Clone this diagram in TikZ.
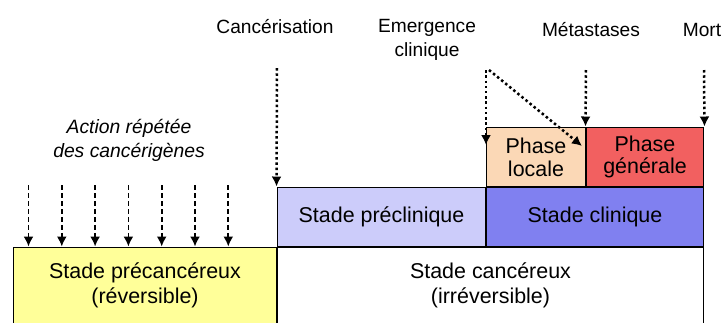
\documentclass[tikz,border=0pt]{standalone}
\usepackage{fontspec}
\setmainfont{Liberation Sans}
\usetikzlibrary{arrows.meta}

\definecolor{precancyellow}{RGB}{255,255,153}
\definecolor{preclinblue}{RGB}{204,204,250}
\definecolor{clinblue}{RGB}{128,128,240}
\definecolor{localpeach}{RGB}{251,216,182}
\definecolor{generalred}{RGB}{242,96,96}

\begin{document}
\begin{tikzpicture}[x=0.02cm, y=-0.02cm,
  >={Latex[length=0.2cm,width=0.2cm]},
  box/.style={draw, line width=0.02cm, inner sep=0pt, align=center,
    font=\fontsize{12.2}{14.2}\selectfont},
  phasebox/.style={box, minimum height=1.2cm, font=\fontsize{12.2}{13}\selectfont},
  toptext/.style={inner sep=0pt, align=center, font=\fontsize{10.9}{13.6}\selectfont},
  dotarrow/.style={->, line width=0.05cm, dash pattern=on 0.05cm off 0.055cm},
  dasharrow/.style={->, line width=0.035cm, dash pattern=on 0.1cm off 0.06cm}]

\useasboundingbox (0,0) rectangle (725,322);
\clip (0,0) rectangle (725,322);

% The two stages at the bottom
\node [box, fill=precancyellow, minimum width=5.28cm, minimum height=1.54cm] (precanc) at (145,285.5) {Stade précancéreux\\(réversible)};
\node [box, minimum width=8.54cm, minimum height=1.54cm] (canc) at (490.5,285.5) {Stade cancéreux\\(irréversible)};

% Preclinical and clinical stages, then the two phases
\node [box, fill=preclinblue, minimum width=4.18cm, minimum height=1.2cm] (preclin) at (381.5,217) {Stade préclinique};
\node [box, fill=clinblue, minimum width=4.36cm, minimum height=1.2cm] (clin) at (595,217) {Stade clinique};
\node [phasebox, fill=localpeach, minimum width=2cm] (locale) at (536,157) {Phase\\locale};
\node [phasebox, fill=generalred, minimum width=2.36cm] (generale) at (645,157) {Phase\\générale};

% Labels on top
\node [toptext] (cancerisation) at (275,27) {Cancérisation};
\node [toptext] (emergence) at (427,40) {Emergence\\clinique};
\node [toptext] (metastases) at (591,30) {Métastases};
\node [toptext] (mort) at (702,30) {Mort};
\node [toptext, font=\fontsize{11}{13.6}\selectfont\itshape] (action) at (129,140) {Action répétée\\des cancérigènes};

% Repeated carcinogen hits
\foreach \i in {0,...,6} {
  \coordinate (hit\i) at (28.5+33.3*\i,185);
  \draw [dasharrow] (hit\i) -- (hit\i |- precanc.north);
}

% Events along the time line
\coordinate (cstart) at (277,68);
\draw [dotarrow] (cstart) -- (preclin.north west);
\coordinate (estart) at (486,70);
\coordinate (eend) at (486,145);
\draw [dotarrow] (estart) -- (eend);
\coordinate (dstart) at (489,70);
\coordinate (dend) at (582,146);
\draw [dotarrow] (dstart) -- (dend);
\coordinate (mstart) at (586,70);
\draw [dotarrow] (mstart) -- (generale.north west);
\coordinate (mortstart) at (704,70);
\draw [dotarrow] (mortstart) -- (generale.north east);
\end{tikzpicture}
\end{document}
